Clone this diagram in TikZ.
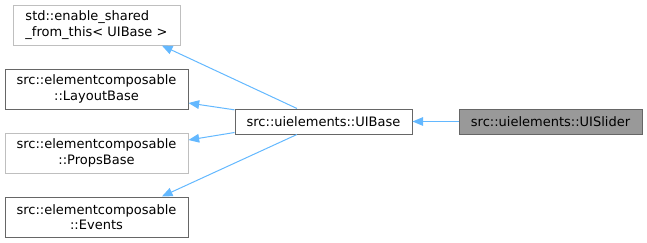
\documentclass[tikz,border=0pt]{standalone}
\usepackage{fontspec}
\setmainfont{DejaVu Sans}
\usetikzlibrary{arrows.meta,positioning}
\definecolor{edgeblue}{HTML}{63B8FF}
\definecolor{darkline}{HTML}{666666}
\definecolor{lightline}{HTML}{BFBFBF}
\definecolor{leaffill}{HTML}{999999}
\tikzstyle{cls} = [draw=darkline, line width=0.75pt, inner sep=0pt, minimum width=137.25pt, minimum height=30pt, align=center, font=\fontsize{9.75}{11.7}\selectfont]
\tikzstyle{ext} = [cls, draw=lightline]
\tikzstyle{one} = [cls, minimum height=18.75pt]
\tikzstyle{inh} = [draw=edgeblue, line width=0.75pt, -{Triangle[length=8pt,width=6.5pt]}]

\begin{document}
\begin{tikzpicture}[x=0.75pt,y=-0.75pt]
\useasboundingbox (0,0) rectangle (647,243);
% base classes on the left
\node[ext, minimum width=125.25pt, align=left] (shared) at (96.5,25) {std::enable\_shared\\\_from\_this< UIBase >};
\node[cls] (layout) at (96.5,89) {src::elementcomposable\\::LayoutBase};
\node[ext] (props) at (96.5,153) {src::elementcomposable\\::PropsBase};
\node[cls] (events) at (96.5,217) {src::elementcomposable\\::Events};
% the two ui classes
\node[one, minimum width=132.75pt] (uibase) at (323.5,121.5) {src::uielements::UIBase};
\node[one, fill=leaffill] (slider) at (550.5,121.5) {src::uielements::UISlider};
% inheritance edges
\draw[inh] ([xshift=-19.9pt]uibase.north) -- ([xshift=49pt]shared.south);
\draw[inh] ([yshift=-1pt]uibase.north west) -- ([yshift=-10.5pt]layout.east);
\draw[inh] ([yshift=1.5pt]uibase.south west) -- ([yshift=9.75pt]props.east);
\draw[inh] ([xshift=-19.9pt]uibase.south) -- ([xshift=49pt]events.north);
\draw[inh] (slider) -- (uibase);
\end{tikzpicture}
\end{document}
